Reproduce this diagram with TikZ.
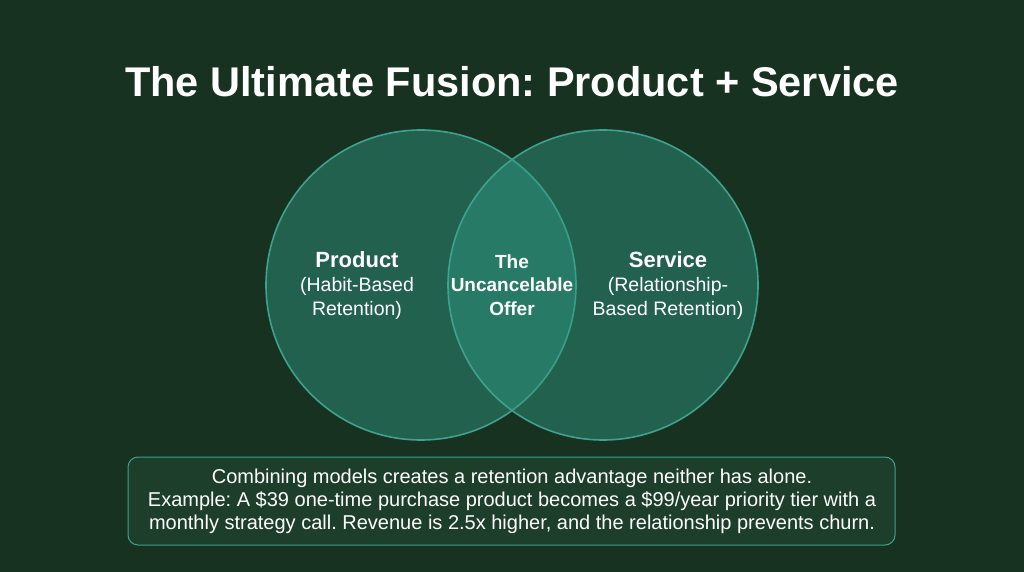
\documentclass[tikz,border=0pt]{standalone}
\usepackage{fontspec}
\setmainfont{Liberation Sans}
\usepackage{tikz}
\frenchspacing

\definecolor{bgdark}{RGB}{24,50,33}
\definecolor{ringteal}{RGB}{62,162,142}
\definecolor{fillteal}{RGB}{47,156,133}
\definecolor{boxfill}{RGB}{29,62,43}

\begin{document}
\begin{tikzpicture}[x=1pt,y=-1pt,
    vennset/.style={circle,draw=ringteal,line width=1.6pt,fill=fillteal,fill opacity=0.45,
      text opacity=1,minimum size=310pt,inner sep=0pt},
    setlabel/.style={text=white,align=center,font=\fontsize{19.5}{24}\selectfont},
    notebox/.style={draw=ringteal,line width=1pt,fill=boxfill,rounded corners=10pt}]
    % Background
    \fill[bgdark] (0,0) rectangle (1024,572);
    \useasboundingbox (0,0) rectangle (1024,572);

    % Title
    \node[text=white,font=\fontsize{41.5}{46}\selectfont\bfseries] (title) at (512,82)
      {The Ultimate Fusion: Product + Service};

    % Draw the two sets
    \node[vennset] (prod) at (421,285) {};
    \node[vennset] (serv) at (603,285) {};

    % Add set labels
    \node[setlabel] (prodtxt) at (357,286)
      {{\fontsize{22}{24}\selectfont\bfseries Product}\\(Habit-Based\\Retention)};
    \node[setlabel] (servtxt) at (668,286)
      {{\fontsize{22}{24}\selectfont\bfseries Service}\\(Relationship-\\Based Retention)};
    \node[setlabel,font=\fontsize{19}{23.5}\selectfont\bfseries] (offer) at (512,285)
      {The\\Uncancelable\\Offer};

    % Note at the bottom
    \draw[notebox] (128,457) rectangle (895,545);
    \node[text=white,align=center,font=\fontsize{20}{23}\selectfont] (note) at (512,501)
      {Combining models creates a retention advantage neither has alone.\\
       Example: A \$39 one-time purchase product becomes a \$99/year priority tier with a\\
       monthly strategy call. Revenue is 2.5x higher, and the relationship prevents churn.};
\end{tikzpicture}
\end{document}
